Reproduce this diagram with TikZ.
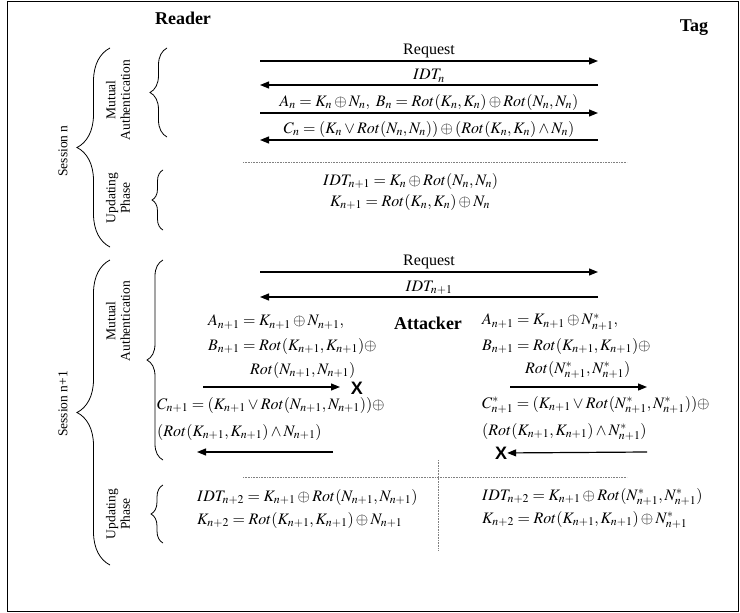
\documentclass[tikz,border=0pt]{standalone}
\usepackage{mathptmx}
\usepackage{fontspec}
\setmainfont{Liberation Serif}
\newfontfamily\xfont{Liberation Sans}
\usetikzlibrary{arrows.meta,decorations.pathreplacing}

\tikzset{
  msg/.style={line width=1.2pt,-{Triangle[length=9pt,width=7pt]}},
  eq/.style={anchor=west,inner sep=0pt,font=\fontsize{16}{19}\selectfont},
  lbl/.style={above=2pt,inner sep=0pt,font=\fontsize{16}{19}\selectfont},
  side/.style={rotate=90,align=center,font=\fontsize{13.5}{14.5}\selectfont},
  party/.style={font=\fontsize{18}{21}\selectfont\bfseries},
  outerbrace/.style={decorate,decoration={brace,amplitude=33pt},line width=0.8pt},
  innerbrace/.style={decorate,decoration={brace,amplitude=#1},line width=0.8pt},
  sep/.style={densely dotted,gray,line width=0.6pt},
  cut/.style={inner sep=0pt,font=\fontsize{18}{21}\selectfont\xfont\bfseries},
}

\begin{document}
\begin{tikzpicture}[x=1pt,y=-1pt]
  \useasboundingbox (0,0) rectangle (740,613);
  \draw[line width=0.8pt] (7,1) rectangle (738,611);

  % parties
  \node[party] (reader) at (183,18) {Reader};
  \node[party] (tag) at (694,28) {Tag};
  \node[party] (attacker) at (428,323) {Attacker};

  % session n
  \draw[outerbrace] (110,247) -- (110,48);
  \node[side] (sesn) at (63,151) {Session n};
  \draw[innerbrace=17pt] (167,137) -- (167,48);
  \node[side] (authn) at (118,100) {Mutual\\Authentication};
  \draw[innerbrace=11pt] (163,230) -- (163,170);
  \node[side] (updn) at (118,198) {Updating\\Phase};

  \coordinate (r1) at (260,61);  \coordinate (t1) at (598,61);
  \coordinate (r2) at (260,85);  \coordinate (t2) at (598,85);
  \coordinate (r3) at (260,113); \coordinate (t3) at (598,113);
  \coordinate (r4) at (260,140); \coordinate (t4) at (598,140);
  \draw[msg] (r1) -- node[lbl] (req1) {Request} (t1);
  \draw[msg] (t2) -- node[lbl] (idt1) {$IDT_n$} (r2);
  \draw[msg] (r3) -- node[lbl] (ab1) {$A_n=K_n\oplus N_n,\ B_n=Rot(K_n,K_n)\oplus Rot(N_n,N_n)$} (t3);
  \draw[msg] (t4) -- node[lbl] (c1) {$C_n=(K_n\vee Rot(N_n,N_n))\oplus(Rot(K_n,K_n)\wedge N_n)$} (r4);

  \coordinate (s1a) at (243,162); \coordinate (s1b) at (627,162);
  \draw[sep] (s1a) -- (s1b);
  \node[eq] (upd1) at (323,181) {$IDT_{n+1}=K_n\oplus Rot(N_n,N_n)$};
  \node[eq] (upd2) at (330,202) {$K_{n+1}=Rot(K_n,K_n)\oplus N_n$};

  % session n+1
  \draw[outerbrace] (110,565) -- (110,260);
  \node[side] (sesm) at (63,404) {Session n+1};
  \draw[innerbrace=16pt] (163,460) -- (163,260);
  \node[side] (authm) at (118,321) {Mutual\\Authentication};
  \draw[innerbrace=12pt] (163,543) -- (163,485);
  \node[side] (updm) at (118,514) {Updating\\Phase};

  \coordinate (r5) at (260,272); \coordinate (t5) at (598,272);
  \coordinate (r6) at (260,297); \coordinate (t6) at (598,297);
  \draw[msg] (r5) -- node[lbl] (req2) {Request} (t5);
  \draw[msg] (t6) -- node[lbl] (idt2) {$IDT_{n+1}$} (r6);

  % reader side, blocked
  \node[eq] (a2) at (208,322) {$A_{n+1}=K_{n+1}\oplus N_{n+1},$};
  \node[eq] (b2) at (208,346) {$B_{n+1}=Rot(K_{n+1},K_{n+1})\oplus$};
  \node[eq] (b2r) at (250,370) {$Rot(N_{n+1},N_{n+1})$};
  \coordinate (r7) at (203,387); \coordinate (x7) at (340,387);
  \draw[msg] (r7) -- (x7);
  \node[cut] (cutr) at (357,388) {X};
  \node[eq] (c2) at (157,405) {$C_{n+1}=(K_{n+1}\vee Rot(N_{n+1},N_{n+1}))\oplus$};
  \node[eq] (c2r) at (157,432) {$(Rot(K_{n+1},K_{n+1})\wedge N_{n+1})$};
  \coordinate (r8) at (197,452); \coordinate (x8) at (333,452);
  \draw[msg] (x8) -- (r8);

  % attacker side
  \node[eq] (a3) at (482,322) {$A_{n+1}=K_{n+1}\oplus N^*_{n+1},$};
  \node[eq] (b3) at (482,346) {$B_{n+1}=Rot(K_{n+1},K_{n+1})\oplus$};
  \node[eq] (b3r) at (525,370) {$Rot(N^*_{n+1},N^*_{n+1})$};
  \coordinate (x9) at (510,387); \coordinate (t9) at (647,387);
  \draw[msg] (x9) -- (t9);
  \node[eq] (c3) at (482,405) {$C^*_{n+1}=(K_{n+1}\vee Rot(N^*_{n+1},N^*_{n+1}))\oplus$};
  \node[eq] (c3r) at (482,432) {$(Rot(K_{n+1},K_{n+1})\wedge N^*_{n+1})$};
  \node[cut] (cutt) at (501,453) {X};
  \coordinate (t10) at (647,452);
  \draw[msg] (t10) -- (cutt);

  % updating, both sides
  \coordinate (s2a) at (243,477); \coordinate (s2b) at (627,477);
  \coordinate (s3a) at (438,460); \coordinate (s3b) at (438,550);
  \draw[sep] (s2a) -- (s2b);
  \draw[sep] (s3a) -- (s3b);
  \node[eq] (upd3) at (197,497) {$IDT_{n+2}=K_{n+1}\oplus Rot(N_{n+1},N_{n+1})$};
  \node[eq] (upd4) at (197,520) {$K_{n+2}=Rot(K_{n+1},K_{n+1})\oplus N_{n+1}$};
  \node[eq] (upd5) at (482,497) {$IDT_{n+2}=K_{n+1}\oplus Rot(N^*_{n+1},N^*_{n+1})$};
  \node[eq] (upd6) at (482,520) {$K_{n+2}=Rot(K_{n+1},K_{n+1})\oplus N^*_{n+1}$};
\end{tikzpicture}
\end{document}
